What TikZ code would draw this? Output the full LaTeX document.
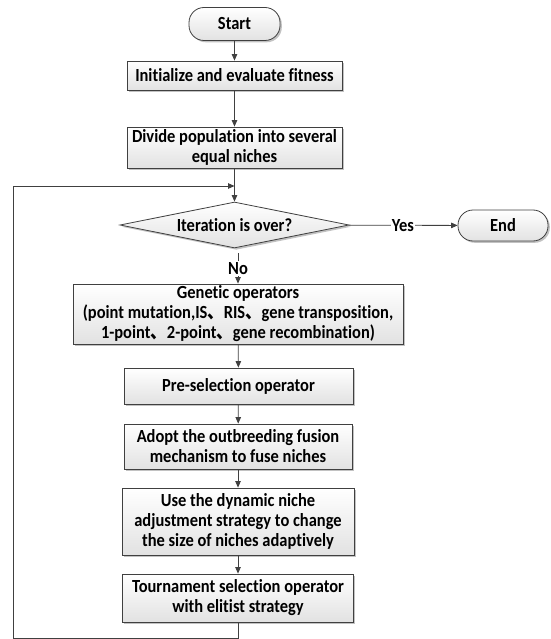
\documentclass[tikz,border=0pt]{standalone}
\usepackage{fontspec}
\setmainfont{Carlito}[FakeStretch=0.89, Ligatures=NoCommon]
\newfontfamily\cjk{Noto Sans CJK SC}[FakeStretch=0.89]
\usetikzlibrary{shapes.geometric,arrows.meta,shadows,calc}
\definecolor{ln}{HTML}{404040}
\definecolor{bt}{HTML}{E2E2E2}
\tikzset{
  base/.style={draw=ln, line width=0.8pt, top color=white, bottom color=bt,
    drop shadow={shadow xshift=1.8pt, shadow yshift=-1.8pt, fill=black!40, opacity=0.6},
    font=\fontsize{18.5}{20}\selectfont\bfseries, align=center, inner sep=0pt},
  procbox/.style={base, rectangle},
  termbox/.style={base, rectangle, rounded corners=15pt},
  decbox/.style={base, diamond, aspect=4.9},
  arr/.style={draw=ln, line width=0.8pt, -{Triangle[length=6.5pt,width=5.5pt]}},
  lbl/.style={fill=white, font=\fontsize{18.5}{20}\selectfont\bfseries, inner sep=1pt}
}
\begin{document}
\begin{tikzpicture}[x=1pt,y=-1pt]
\useasboundingbox (0,0) rectangle (550,639);
\node[termbox, minimum width=91pt, minimum height=33pt] (s) at (234.5,24) {Start};
\node[procbox, minimum width=215pt, minimum height=29pt] (i) at (234.5,75.5) {Initialize and evaluate fitness};
\node[procbox, minimum width=215pt, minimum height=41pt] (dv) at (234.5,147.5) {Divide population into several\\equal niches};
\node[decbox, minimum width=229pt, minimum height=46pt] (d) at (234.5,225) {Iteration is over?};
\node[termbox, minimum width=90pt, minimum height=31pt] (e) at (503,225.5) {End};
\node[procbox, minimum width=330pt, minimum height=60pt] (g) at (238,314) {Genetic operators\\(point mutation,IS{\cjk 、}RIS{\cjk 、}gene transposition,\\1-point{\cjk 、}2-point{\cjk 、}gene recombination)};
\node[procbox, minimum width=229pt, minimum height=36pt] (p) at (238.5,386) {Pre-selection operator};
\node[procbox, minimum width=228pt, minimum height=45pt] (a) at (238,446.5) {Adopt the outbreeding fusion\\mechanism to fuse niches};
\node[procbox, minimum width=232pt, minimum height=67pt] (u) at (238,521.5) {Use the dynamic niche\\adjustment strategy to change\\the size of niches adaptively};
\node[procbox, minimum width=231pt, minimum height=48pt] (t) at (238,598) {Tournament selection operator\\with elitist strategy};
\coordinate (lin) at (234.5,186);
\coordinate (lb) at (13.5,638);
\draw[arr] (s) -- (i);
\draw[arr] (i) -- (dv);
\draw[arr] (dv) -- (d);
\draw[arr] (d) -- node[lbl] {Yes} (e);
\draw[arr] ([yshift=-5pt]d.south -| g.north) -- node[lbl, pos=0.5] {No} (g.north);
\draw[arr] (g) -- (p);
\draw[arr] (p) -- (a);
\draw[arr] (a) -- (u);
\draw[arr] (u) -- (t);
\draw[arr] (t.south) |- (lb) |- (lin);
\end{tikzpicture}
\end{document}
